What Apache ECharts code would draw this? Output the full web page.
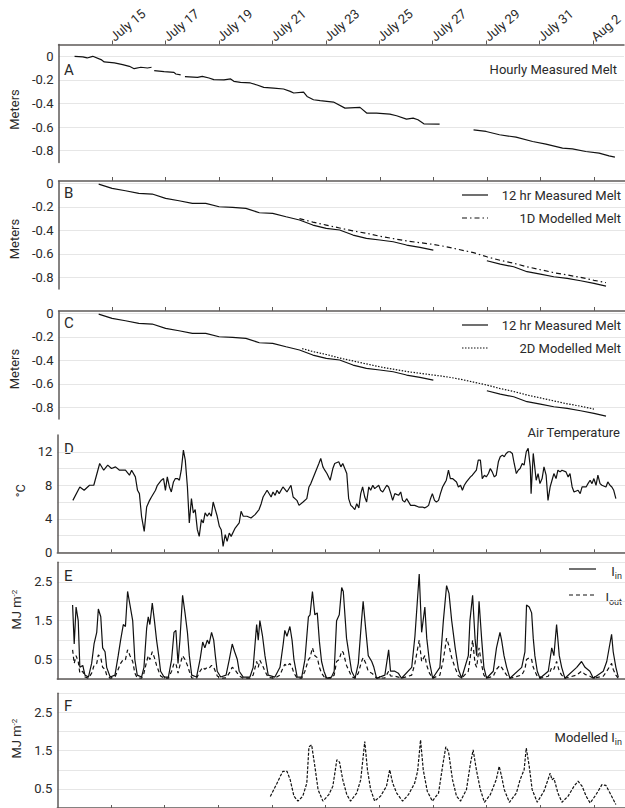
<!DOCTYPE html>
<html><head><meta charset="utf-8">
<script src="https://cdn.jsdelivr.net/npm/echarts@6.0.0/dist/echarts.min.js"></script>
<style>html,body{margin:0;padding:0;background:#fff}#c{width:625px;height:808px}</style>
</head><body><div id="c"></div>
<script>
// ---- axis ticks / labels ----
const tickDays = [2,4,6,8,10,12,14,16,18,20];          // days since July 13 00:00
const dayLabels = ['July 15','July 17','July 19','July 21','July 23','July 25','July 27','July 29','July 31','Aug 2'];
const meterTicks = [-0.8,-0.6,-0.4,-0.2,0];
const tempTicks = [0,2,4,6,8,10,12];
const tempLabels = [0,4,8,12];
const energyLabels = [0.5,1.5,2.5];
const XMAX = 21.16;

// ---- A: hourly measured melt (m) ----
const hourlyMelt = [
[0.6,0],[0.91,-0.005],[1.07,-0.014],[1.28,0],[1.59,-0.028],[1.71,-0.048],[2.09,-0.056],[2.4,-0.07],[2.65,-0.085],[2.83,-0.105],[3.08,-0.093],[3.33,-0.099],[3.48,-0.093],
[3.53,'-'],
[3.58,-0.121],[3.95,-0.13],[4.32,-0.136],[4.39,-0.15],[4.57,-0.158],
[4.65,'-'],
[4.73,-0.172],[5.2,-0.178],[5.38,-0.17],[5.63,-0.184],[5.81,-0.198],[6.19,-0.2],[6.44,-0.192],[6.56,-0.212],[6.81,-0.221],[7.18,-0.226],[7.43,-0.243],[7.68,-0.263],[8.05,-0.269],[8.42,-0.277],[8.67,-0.297],[8.8,-0.311],[9.17,-0.303],[9.3,-0.34],[9.54,-0.368],[9.79,-0.376],[10.29,-0.388],[10.72,-0.439],[11.28,-0.433],[11.53,-0.481],[11.9,-0.481],[12.4,-0.49],[12.65,-0.504],[13.02,-0.532],[13.27,-0.524],[13.45,-0.538],[13.67,-0.572],[14.26,-0.575],
[14.9,'-'],
[15.53,-0.623],[16.0,-0.637],[16.5,-0.665],[17.12,-0.685],[17.74,-0.722],[18.24,-0.744],[18.86,-0.778],[19.23,-0.784],[19.73,-0.807],[20.23,-0.821],[20.6,-0.844],[20.82,-0.855]
];

// ---- B/C: 12 hr measured melt (m) ----
const melt12hr = [
[1.5,-0.006],[2.0,-0.043],[2.5,-0.063],[3.0,-0.085],[3.5,-0.091],[4.0,-0.128],[4.5,-0.148],[5.0,-0.17],[5.5,-0.17],[6.0,-0.199],[6.5,-0.204],[7.0,-0.213],[7.5,-0.25],[8.0,-0.255],[8.5,-0.284],[9.0,-0.312],[9.5,-0.355],[10.0,-0.383],[10.5,-0.397],[11.0,-0.44],[11.5,-0.468],[12.0,-0.482],[12.5,-0.497],[13.0,-0.525],[13.5,-0.545],[14.0,-0.568],
[15.0,'-'],
[16.0,-0.659],[16.5,-0.687],[17.0,-0.71],[17.5,-0.752],[18.0,-0.772],[18.5,-0.795],[19.0,-0.809],[19.5,-0.829],[20.0,-0.851],[20.45,-0.874]
];
const melt1D = [
[9.0,-0.30],[9.5,-0.33],[10,-0.355],[10.5,-0.38],[11,-0.405],[11.5,-0.425],[12,-0.45],[12.5,-0.47],[13,-0.49],[13.5,-0.505],[14,-0.52],[14.5,-0.54],[15,-0.565],[15.5,-0.59],[16,-0.625],[16.5,-0.655],[17,-0.68],[17.5,-0.71],[18,-0.735],[18.5,-0.76],[19,-0.78],[19.5,-0.80],[20,-0.825],[20.45,-0.845]
];
const melt2D = [
[9.1,-0.30],[9.5,-0.325],[10,-0.35],[10.5,-0.38],[11,-0.405],[11.5,-0.43],[12,-0.455],[12.5,-0.475],[13,-0.495],[13.5,-0.51],[14,-0.525],[14.5,-0.54],[15,-0.56],[15.5,-0.585],[16,-0.61],[16.5,-0.64],[17,-0.665],[17.5,-0.695],[18,-0.72],[18.5,-0.745],[19,-0.77],[19.5,-0.79],[20,-0.815]
];

// ---- D: air temperature (°C) ----
const airTemp = [
[0.58,6.2],[0.84,7.8],[1.0,7.4],[1.2,8.0],[1.36,8.0],[1.58,10.6],[1.73,9.8],[1.88,10.4],[2.02,10.0],[2.17,10.2],[2.32,9.8],[2.54,9.8],[2.69,9.2],[2.77,9.8],[2.91,9.0],[2.99,7.4],[3.06,7.0],[3.14,4.3],[3.24,2.5],[3.33,5.4],[3.44,6.2],[3.51,6.6],[3.66,7.4],[3.73,8.0],[3.88,8.6],[3.96,8.8],[4.03,7.4],[4.10,9.0],[4.18,7.8],[4.25,7.2],[4.33,8.4],[4.40,8.8],[4.48,8.8],[4.55,8.6],[4.62,9.8],[4.70,12.2],[4.77,11.0],[4.85,7.8],[4.92,3.5],[5.00,6.4],[5.07,4.7],[5.14,5.1],[5.22,2.7],[5.29,1.9],[5.37,3.9],[5.44,3.5],[5.51,4.7],[5.59,4.3],[5.66,4.7],[5.74,4.3],[5.81,6.0],[5.89,5.1],[5.96,4.3],[6.04,3.1],[6.11,2.7],[6.18,0.7],[6.26,2.1],[6.33,1.3],[6.41,2.3],[6.48,1.9],[6.63,2.9],[6.78,3.5],[6.85,4.9],[6.93,4.3],[7.07,4.3],[7.22,4.1],[7.37,4.5],[7.52,5.1],[7.60,5.8],[7.67,6.6],[7.82,7.4],[7.97,6.6],[8.04,7.2],[8.12,6.8],[8.19,7.4],[8.27,7.0],[8.41,7.8],[8.56,7.2],[8.71,8.0],[8.79,6.6],[8.93,6.2],[9.01,5.6],[9.16,6.0],[9.30,6.4],[9.38,7.8],[9.45,8.2],[9.60,9.4],[9.75,10.6],[9.82,11.2],[9.90,10.2],[9.97,9.8],[10.05,9.4],[10.17,8.6],[10.27,10.0],[10.34,10.6],[10.49,10.8],[10.57,10.2],[10.64,10.6],[10.79,9.4],[10.86,6.4],[10.94,5.6],[11.01,5.4],[11.09,5.1],[11.16,5.8],[11.24,5.3],[11.31,7.0],[11.38,7.8],[11.46,6.6],[11.53,6.0],[11.61,7.8],[11.68,7.4],[11.76,8.0],[11.83,7.6],[11.98,8.0],[12.05,7.4],[12.13,7.2],[12.28,8.0],[12.35,7.8],[12.43,7.0],[12.50,6.2],[12.58,7.0],[12.72,6.8],[12.80,7.2],[12.87,6.2],[12.95,6.0],[13.02,6.4],[13.17,5.6],[13.32,5.6],[13.47,5.4],[13.61,5.4],[13.69,5.3],[13.76,5.4],[13.84,5.6],[13.91,6.4],[13.98,7.0],[14.06,6.2],[14.13,6.0],[14.21,6.2],[14.28,7.0],[14.36,7.8],[14.43,8.2],[14.50,8.6],[14.58,9.8],[14.65,8.8],[14.73,8.8],[14.88,8.4],[14.95,7.8],[15.03,8.0],[15.10,7.4],[15.17,8.0],[15.25,8.4],[15.40,9.0],[15.47,9.2],[15.62,9.8],[15.69,11.0],[15.77,11.0],[15.84,8.8],[15.92,9.2],[15.99,9.0],[16.07,9.4],[16.14,10.0],[16.21,9.6],[16.29,9.0],[16.36,9.2],[16.44,10.8],[16.51,11.4],[16.59,11.6],[16.66,11.4],[16.73,11.8],[16.81,12.0],[16.88,12.0],[16.96,11.8],[17.03,10.6],[17.11,9.4],[17.18,9.8],[17.25,10.0],[17.33,10.6],[17.40,10.4],[17.48,12.0],[17.55,12.4],[17.63,10.2],[17.66,7.0],[17.74,11.8],[17.85,8.6],[17.92,9.4],[17.99,8.2],[18.07,8.8],[18.14,10.2],[18.22,9.2],[18.29,6.2],[18.37,7.8],[18.44,8.6],[18.51,9.4],[18.59,8.8],[18.66,9.8],[18.74,9.6],[18.81,9.8],[18.96,9.6],[19.04,9.0],[19.11,9.4],[19.19,7.8],[19.26,7.2],[19.41,7.4],[19.49,7.0],[19.56,7.8],[19.71,7.8],[19.78,8.2],[19.86,8.6],[19.93,8.2],[20.00,8.8],[20.08,8.0],[20.15,9.2],[20.23,8.2],[20.30,8.0],[20.45,7.8],[20.52,8.4],[20.60,8.0],[20.67,7.8],[20.74,7.4],[20.82,6.4]
];

// ---- E: measured I_in / I_out (MJ m-2) ----
const iIn = [
[0.57,1.9],[0.63,0.9],[0.70,1.85],[0.78,1.5],[0.84,0.3],[0.95,0.35],[1.03,0.1],[1.16,0.05],
[1.28,0.4],[1.37,0.9],[1.47,1.2],[1.53,1.8],[1.62,1.6],[1.69,0.8],[1.78,0.7],[1.84,0.3],[1.97,0.05],
[2.15,0.1],[2.27,0.6],[2.36,1.0],[2.46,1.4],[2.54,1.35],[2.62,2.25],[2.71,1.9],[2.81,1.5],[2.89,0.5],[2.98,0.1],
[3.14,0.05],[3.23,0.3],[3.33,1.3],[3.39,1.6],[3.45,1.4],[3.54,1.95],[3.62,1.5],[3.70,1.0],[3.78,0.6],[3.85,0.2],[3.98,0.05],
[4.14,0.05],[4.26,0.5],[4.35,1.2],[4.42,1.25],[4.50,0.4],[4.57,1.0],[4.67,2.15],[4.76,1.7],[4.85,1.2],[4.92,0.6],[5.01,0.1],
[5.19,0.05],[5.32,0.5],[5.42,0.95],[5.50,0.8],[5.59,1.0],[5.66,0.9],[5.75,1.2],[5.83,1.0],[5.89,0.6],[5.96,0.2],[6.09,0.05],
[6.29,0.1],[6.41,0.5],[6.52,0.9],[6.61,0.7],[6.71,0.5],[6.78,0.2],[6.93,0.05],
[7.18,0.05],[7.30,0.3],[7.43,1.4],[7.49,1.0],[7.55,1.5],[7.65,1.1],[7.74,0.6],[7.86,0.1],
[8.11,0.05],[8.30,0.3],[8.42,0.9],[8.48,1.25],[8.56,1.1],[8.67,1.35],[8.75,1.0],[8.82,0.5],[8.94,0.05],
[9.11,0.05],[9.23,0.5],[9.36,1.6],[9.42,1.65],[9.51,2.25],[9.60,1.65],[9.69,1.7],[9.77,0.96],[9.85,0.45],[9.94,0.2],[10.04,0.02],
[10.22,0.05],[10.32,0.2],[10.41,1.5],[10.51,1.65],[10.60,2.35],[10.66,2.25],[10.78,1.05],[10.88,0.6],[10.97,0.2],[11.10,0.02],
[11.22,0.4],[11.34,1.5],[11.40,2.0],[11.50,1.25],[11.59,0.6],[11.72,0.45],[11.80,0.3],[11.90,0.02],
[12.21,0.1],[12.35,0.75],[12.42,0.2],[12.58,0.2],[12.71,0.15],[12.83,0.02],
[13.21,0.3],[13.33,1.1],[13.49,2.7],[13.58,1.2],[13.70,1.85],[13.77,1.05],[13.87,0.45],[13.99,0.02],
[14.26,0.3],[14.39,1.5],[14.51,2.4],[14.60,2.2],[14.70,1.5],[14.83,0.8],[14.95,0.25],[15.07,0.02],
[15.32,0.6],[15.38,1.5],[15.48,2.15],[15.57,1.05],[15.63,0.6],[15.72,2.0],[15.82,1.0],[15.90,0.3],[16.00,0.02],
[16.25,0.2],[16.37,0.8],[16.50,1.2],[16.56,1.0],[16.65,0.6],[16.75,0.3],[16.87,0.02],
[17.31,0.3],[17.43,0.7],[17.49,1.9],[17.59,1.85],[17.68,1.7],[17.74,1.05],[17.80,0.6],[17.89,0.2],[17.99,0.02],
[18.30,0.2],[18.43,0.8],[18.51,0.6],[18.61,1.4],[18.71,0.6],[18.80,0.3],[18.92,0.02],
[19.36,0.3],[19.54,0.45],[19.67,0.3],[19.85,0.2],[19.98,0.02],
[20.35,0.2],[20.48,0.45],[20.66,1.15],[20.72,0.7],[20.82,0.3],[20.91,0.05]
];
const iOut = [
[0.57,0.75],[0.63,0.4],[0.70,0.6],[0.78,0.45],[0.84,0.15],[0.95,0.2],[1.03,0.05],[1.16,0.02],
[1.28,0.15],[1.37,0.35],[1.47,0.4],[1.53,0.62],[1.62,0.55],[1.69,0.3],[1.78,0.25],[1.84,0.1],[1.97,0.02],
[2.15,0.05],[2.27,0.25],[2.36,0.4],[2.46,0.5],[2.54,0.5],[2.62,0.75],[2.71,0.6],[2.81,0.45],[2.89,0.15],[2.98,0.03],
[3.14,0.02],[3.23,0.15],[3.33,0.45],[3.39,0.6],[3.45,0.5],[3.54,0.7],[3.62,0.55],[3.70,0.35],[3.78,0.2],[3.85,0.08],[3.98,0.02],
[4.14,0.02],[4.26,0.2],[4.35,0.4],[4.42,0.4],[4.50,0.15],[4.57,0.35],[4.67,0.6],[4.76,0.5],[4.85,0.35],[4.92,0.2],[5.01,0.03],
[5.19,0.02],[5.32,0.2],[5.42,0.3],[5.50,0.25],[5.59,0.3],[5.66,0.28],[5.75,0.35],[5.83,0.3],[5.89,0.2],[5.96,0.08],[6.09,0.02],
[6.29,0.03],[6.41,0.15],[6.52,0.3],[6.61,0.25],[6.71,0.15],[6.78,0.08],[6.93,0.02],
[7.18,0.02],[7.30,0.1],[7.43,0.45],[7.49,0.3],[7.55,0.48],[7.65,0.35],[7.74,0.2],[7.86,0.04],
[8.11,0.02],[8.30,0.1],[8.42,0.3],[8.48,0.38],[8.56,0.33],[8.67,0.4],[8.75,0.3],[8.82,0.15],[8.94,0.02],
[9.11,0.02],[9.23,0.2],[9.36,0.5],[9.42,0.55],[9.51,0.8],[9.60,0.6],[9.69,0.55],[9.77,0.3],[9.85,0.15],[9.94,0.06],[10.04,0.02],
[10.22,0.02],[10.32,0.1],[10.41,0.45],[10.51,0.5],[10.60,0.72],[10.66,0.68],[10.78,0.35],[10.88,0.2],[10.97,0.06],[11.10,0.02],
[11.22,0.15],[11.34,0.45],[11.40,0.55],[11.50,0.4],[11.59,0.2],[11.72,0.15],[11.80,0.1],[11.90,0.02],
[12.21,0.03],[12.35,0.2],[12.42,0.08],[12.58,0.07],[12.71,0.05],[12.83,0.02],
[13.21,0.1],[13.33,0.4],[13.49,1.0],[13.58,0.45],[13.70,0.6],[13.77,0.35],[13.87,0.15],[13.99,0.02],
[14.26,0.1],[14.39,0.5],[14.51,1.05],[14.60,0.85],[14.70,0.55],[14.83,0.28],[14.95,0.08],[15.07,0.02],
[15.32,0.2],[15.38,0.5],[15.48,1.0],[15.57,0.4],[15.63,0.3],[15.72,0.8],[15.82,0.35],[15.90,0.1],[16.00,0.02],
[16.25,0.07],[16.37,0.25],[16.50,0.35],[16.56,0.3],[16.65,0.2],[16.75,0.1],[16.87,0.02],
[17.31,0.1],[17.43,0.25],[17.49,0.5],[17.59,0.55],[17.68,0.5],[17.74,0.3],[17.80,0.2],[17.89,0.07],[17.99,0.02],
[18.30,0.07],[18.43,0.3],[18.51,0.25],[18.61,0.45],[18.71,0.2],[18.80,0.1],[18.92,0.02],
[19.36,0.1],[19.54,0.2],[19.67,0.12],[19.85,0.07],[19.98,0.02],
[20.35,0.07],[20.48,0.2],[20.66,0.4],[20.72,0.25],[20.82,0.1],[20.91,0.02]
];

// ---- F: modelled I_in (MJ m-2) ----
const iInModel = [
[7.94,0.3],[8.19,0.65],[8.34,0.87],[8.41,0.96],[8.56,0.96],[8.68,0.74],[8.82,0.31],[8.97,0.18],
[9.15,0.31],[9.30,0.65],[9.38,1.6],[9.48,1.65],[9.60,1.09],[9.72,0.48],[9.90,0.18],
[10.12,0.35],[10.27,0.57],[10.42,1.26],[10.52,1.2],[10.64,0.74],[10.79,0.35],[10.93,0.18],
[11.16,0.39],[11.31,0.74],[11.46,1.74],[11.56,1.0],[11.68,0.48],[11.83,0.18],
[12.05,0.31],[12.27,0.57],[12.39,1.0],[12.50,0.65],[12.65,0.39],[12.87,0.18],
[13.09,0.35],[13.32,0.65],[13.43,0.96],[13.54,1.78],[13.64,1.0],[13.79,0.44],[13.98,0.18],
[14.21,0.39],[14.36,1.09],[14.48,1.6],[14.58,1.48],[14.73,0.74],[14.88,0.31],[15.03,0.18],
[15.25,0.48],[15.40,1.17],[15.50,1.52],[15.62,1.0],[15.77,0.48],[15.92,0.15],
[16.14,0.35],[16.36,0.74],[16.47,1.09],[16.56,0.83],[16.66,0.48],[16.85,0.15],
[17.11,0.39],[17.25,0.74],[17.40,1.0],[17.48,1.57],[17.59,1.09],[17.70,0.48],[17.89,0.15],
[18.14,0.44],[18.29,0.74],[18.37,0.91],[18.44,0.74],[18.51,0.78],[18.66,0.39],[18.81,0.15],
[19.04,0.31],[19.26,0.57],[19.41,0.70],[19.56,0.57],[19.71,0.31],[19.86,0.13],
[20.08,0.35],[20.30,0.61],[20.45,0.59],[20.60,0.39],[20.82,0.09]
];

// ---- styling ----
const AX = '#5e5a58';
const GRID = '#e6e6e6';
const TXT = '#2a2a2a';
const FONT = 'Roboto, "Open Sans", sans-serif';
const LINE = '#111';

const grids = [
  {left:57.3, right:0, top:44.5, height:118},
  {left:57.3, right:0, top:181, height:108.1},
  {left:57.3, right:0, top:311, height:108.1},
  {left:57.3, right:0, top:435, height:117.3},
  {left:57.3, right:0, top:562.3, height:116.7},
  {left:57.3, right:0, top:693.3, height:114.8}
];

function xa(i, pos, inside, extra) {
  return Object.assign({
    type:'value', gridIndex:i, min:0, max:XMAX, position:pos,
    splitLine:{show:false},
    axisLine:{show:true, onZero:false, lineStyle:{color:AX, width:1.5}},
    axisTick:{show:true, customValues:tickDays, inside:inside, length:inside?3:4, lineStyle:{color:AX, width:1}},
    axisLabel:{show:false}
  }, extra || {});
}
const xAxes = [
  xa(0,'top',false,{axisLabel:{show:true, customValues:tickDays, rotate:-40, margin:6, align:'left', verticalAlign:'middle',
    fontSize:13, fontFamily:FONT, color:TXT,
    formatter:function(v){ const k = tickDays.indexOf(v); return k>=0 ? dayLabels[k] : ''; }}}),
  xa(1,'top',false), xa(2,'top',false),
  xa(3,'bottom',true), xa(4,'bottom',true), xa(5,'bottom',true)
];

function ya(i, min, max, name, ticks, labels, fmt, gap, pad) {
  const o = {
    type:'value', gridIndex:i, min:min, max:max,
    name:name, nameLocation:'middle', nameGap:gap,
    nameTextStyle:{fontSize:13, fontFamily:FONT, color:TXT, padding:pad,
      rich:{sup:{fontSize:8, fontFamily:FONT, color:TXT, verticalAlign:'top', lineHeight:10}}},
    axisLine:{show:true, onZero:false, lineStyle:{color:AX, width:1.5}},
    axisTick:{show:false},
    splitLine:{show:true, lineStyle:{color:GRID, width:1}},
    axisLabel:{fontSize:13, fontFamily:FONT, color:TXT, margin:5, formatter:fmt}
  };
  if (ticks) o.axisTick.customValues = ticks; else o.interval = 0.5;
  o.axisLabel.customValues = labels;
  return o;
}
const mfmt = v => v === 0 ? '0' : v.toFixed(1);
const efmt = v => v.toFixed(1);
const yAxes = [
  ya(0,-0.9,0.1,'Meters',meterTicks,meterTicks,mfmt,32,[0,12,0,0]),
  ya(1,-0.9,0.02,'Meters',meterTicks,meterTicks,mfmt,32,[0,8,0,0]),
  ya(2,-0.9,0.02,'Meters',meterTicks,meterTicks,mfmt,32,[0,8,0,0]),
  ya(3,0,14,'°C',tempTicks,tempLabels,v=>String(v),28,[0,0,0,6]),
  ya(4,0,3,'MJ m{sup|-2}',null,energyLabels,efmt,28,[0,0,0,22]),
  ya(5,0,3,'MJ m{sup|-2}',null,energyLabels,efmt,28,[0,0,0,24])
];

function ser(name, i, data, dash) {
  return {name:name, type:'line', xAxisIndex:i, yAxisIndex:i, data:data, showSymbol:false, symbol:'none',
    connectNulls:false, silent:true,
    lineStyle:{color:LINE, width:1.2, type: dash || 'solid'}};
}
const series = [
  ser('Hourly Measured Melt',0,hourlyMelt),
  ser('12 hr Measured Melt',1,melt12hr),
  ser('1D Modelled Melt',1,melt1D,[5,3,1.5,3]),
  ser('12 hr Measured Melt (C)',2,melt12hr),
  ser('2D Modelled Melt',2,melt2D,[1.5,1.5]),
  ser('Air Temperature',3,airTemp),
  ser('I_in',4,iIn),
  ser('I_out',4,iOut,[4,3]),
  ser('Modelled I_in',5,iInModel,[3,1.5])
];

function txt(x, y, text, align, size, rich) {
  const s = {text:text, x:0, y:0, fill:TXT, font: (size||13)+'px '+FONT, textAlign:align||'left', textVerticalAlign:'middle'};
  if (rich) s.rich = rich;
  return {type:'text', x:x, y:y, silent:true, style:s};
}
function seg(x1, x2, y, dash) {
  return {type:'line', silent:true, shape:{x1:x1, y1:y, x2:x2, y2:y}, style:{stroke:LINE, lineWidth:1.2, lineDash:dash||null}};
}
const subRich = {m:{fontSize:13, fontFamily:FONT, color:TXT, lineHeight:18}, s:{fontSize:9, fontFamily:FONT, color:TXT, verticalAlign:'bottom', lineHeight:12}};

const graphics = [
  txt(64,69.5,'A','left',15), txt(64,192.5,'B','left',15), txt(64,322.5,'C','left',15),
  txt(64,448.5,'D','left',15), txt(64,576,'E','left',15), txt(64,706,'F','left',15),
  txt(617,69.5,'Hourly Measured Melt','right'),
  seg(462,488,195), txt(621,195,'12 hr Measured Melt','right'),
  seg(462,488,218,[5,3,1.5,3]), txt(621,218,'1D Modelled Melt','right'),
  seg(462,488,325), txt(621,325,'12 hr Measured Melt','right'),
  seg(462,488,348,[1.5,1.5]), txt(621,348,'2D Modelled Melt','right'),
  txt(620,432,'Air Temperature','right'),
  seg(569,596,569), txt(622,571,'{m|I}{s|in}','right',13,subRich),
  seg(569,596,595,[4,3]), txt(622,597,'{m|I}{s|out}','right',13,subRich),
  txt(622,737,'{m|Modelled I}{s|in}','right',13,subRich)
];

const chart = echarts.init(document.getElementById('c'), null, {renderer:'svg', width:625, height:808});
chart.setOption({
  animation:false,
  backgroundColor:'#fff',
  textStyle:{fontFamily:FONT},
  grid:grids,
  xAxis:xAxes,
  yAxis:yAxes,
  series:series,
  graphic:graphics
});
</script>
</body></html>
